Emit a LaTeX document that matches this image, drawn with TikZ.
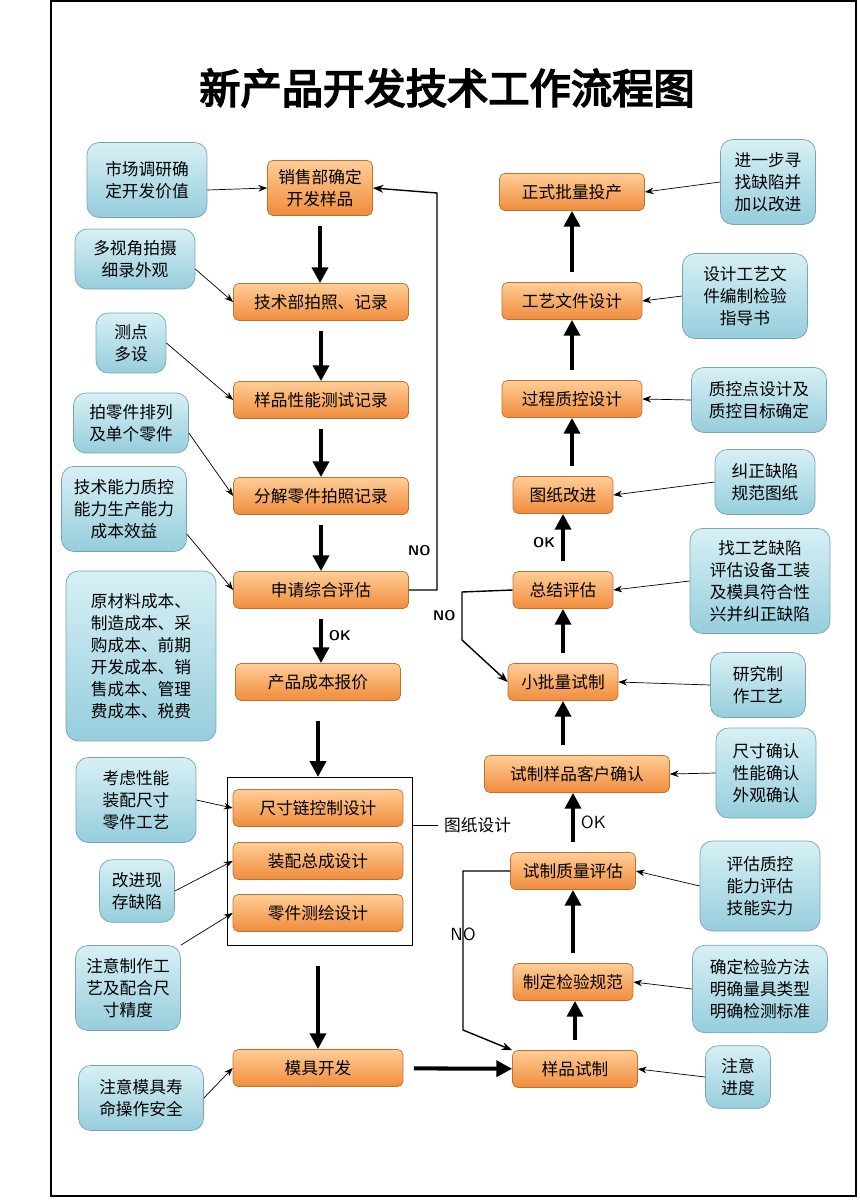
\documentclass[tikz,border=0pt]{standalone}
\usepackage{fontspec}
\newfontfamily\cjk{Noto Sans CJK SC}
\newfontfamily\cjkb[FakeBold=4]{Noto Sans CJK SC}
\usetikzlibrary{arrows.meta}
\definecolor{orangetop}{RGB}{255,205,150}
\definecolor{orangebot}{RGB}{240,140,60}
\definecolor{bluetop}{RGB}{215,240,245}
\definecolor{bluebot}{RGB}{150,205,220}
\tikzset{
  stage/.style={draw=orangebot!80!black, rounded corners=3pt, top color=orangetop, bottom color=orangebot,
    minimum height=0.74cm, align=center, font=\cjk\fontsize{9.5}{12.5}\selectfont},
  note/.style={draw=bluebot!80!black, rounded corners=7pt, top color=bluetop, bottom color=bluebot,
    align=center, font=\cjk\fontsize{9.5}{12.5}\selectfont, inner sep=2pt},
  flow/.style={-{Triangle[length=9pt,width=9pt]}, line width=2.3pt, shorten <=6pt},
  hint/.style={-{Stealth[length=5pt]}, thin},
  back/.style={-{Stealth[length=6pt]}, thick},
  tag/.style={font=\sffamily\bfseries\fontsize{8}{9}\selectfont}
}
\begin{document}
\begin{tikzpicture}[x=0.02cm, y=-0.02cm]
\useasboundingbox (0,0) rectangle (859,1200);
\draw[thick] (51,1) rectangle (856,1196);

% Title
\node (title) at (447,88) {\cjkb\fontsize{23.5}{26}\selectfont 新产品开发技术工作流程图};

% Left chain
\node[stage, minimum width=2.1cm, minimum height=1.1cm] (sale) at (320,188) {销售部确定\\开发样品};
\node[stage, minimum width=3.5cm] (photo) at (321,302) {技术部拍照、记录};
\node[stage, minimum width=3.5cm] (test) at (321,400) {样品性能测试记录};
\node[stage, minimum width=3.5cm] (part) at (321,496) {分解零件拍照记录};
\node[stage, minimum width=3.5cm] (eval) at (321,590) {申请综合评估};
\node[stage, minimum width=3.3cm] (cost) at (318,682) {产品成本报价};
\node[stage, minimum width=3.4cm] (chain) at (318,808) {尺寸链控制设计};
\node[stage, minimum width=3.4cm] (asm) at (318,861) {装配总成设计};
\node[stage, minimum width=3.4cm] (survey) at (318,913) {零件测绘设计};
\node[stage, minimum width=3.4cm] (mold) at (318,1068) {模具开发};
\draw (227,777) rectangle (412,945);
\coordinate (grptop) at (318,777);
\coordinate (grpbot) at (318,945);
\coordinate (grpr) at (412,825);
\node[font=\cjk\fontsize{9.5}{12}\selectfont, anchor=west] (grplbl) at (438,825) {图纸设计};
\draw (grpr) -- (grplbl.west);

% Right chain
\node[stage, minimum width=2.5cm] (sample) at (575,1069) {样品试制};
\node[stage, minimum width=2.4cm] (spec) at (573,982) {制定检验规范};
\node[stage, minimum width=2.5cm] (qual) at (573,871) {试制质量评估};
\node[stage, minimum width=3.7cm] (cust) at (577,774) {试制样品客户确认};
\node[stage, minimum width=2.2cm] (small) at (563,682) {小批量试制};
\node[stage, minimum width=2.0cm] (sum) at (563,590) {总结评估};
\node[stage, minimum width=2.0cm] (fix) at (563,495) {图纸改进};
\node[stage, minimum width=2.8cm] (proc) at (572,399) {过程质控设计};
\node[stage, minimum width=2.8cm] (doc) at (572,301) {工艺文件设计};
\node[stage, minimum width=2.9cm] (mass) at (572,192) {正式批量投产};

% Left notes
\node[note, minimum width=2.4cm, minimum height=1.5cm] (n1) at (147,180) {市场调研确\\定开发价值};
\node[note, minimum width=2.4cm, minimum height=1.2cm] (n2) at (135,259) {多视角拍摄\\细录外观};
\node[note, minimum width=1.4cm, minimum height=1.2cm] (n3) at (131,343) {测点\\多设};
\node[note, minimum width=2.3cm, minimum height=1.2cm] (n4) at (131,423) {拍零件排列\\及单个零件};
\node[note, minimum width=2.5cm, minimum height=1.7cm] (n5) at (124,509) {技术能力质控\\能力生产能力\\成本效益};
\node[note, minimum width=3.0cm, minimum height=3.4cm] (n6) at (141,656) {原材料成本、\\制造成本、采\\购成本、前期\\开发成本、销\\售成本、管理\\费成本、税费};
\node[note, minimum width=2.4cm, minimum height=1.7cm] (n7) at (136,800) {考虑性能\\装配尺寸\\零件工艺};
\node[note, minimum width=1.5cm, minimum height=1.25cm] (n8) at (137,891) {改进现\\存缺陷};
\node[note, minimum width=2.1cm, minimum height=1.7cm] (n9) at (128,988) {注意制作工\\艺及配合尺\\寸精度};
\node[note, minimum width=2.5cm, minimum height=1.3cm] (n10) at (141,1098) {注意模具寿\\命操作安全};

% Right notes
\node[note, minimum width=1.9cm, minimum height=1.7cm] (m1) at (768,182) {进一步寻\\找缺陷并\\加以改进};
\node[note, minimum width=2.5cm, minimum height=1.7cm] (m2) at (745,296) {设计工艺文\\件编制检验\\指导书};
\node[note, minimum width=2.7cm, minimum height=1.3cm] (m3) at (759,400) {质控点设计及\\质控目标确定};
\node[note, minimum width=2.0cm, minimum height=1.3cm] (m4) at (765,482) {纠正缺陷\\规范图纸};
\node[note, minimum width=2.8cm, minimum height=2.1cm] (m5) at (760,581) {找工艺缺陷\\评估设备工装\\及模具符合性\\兴并纠正缺陷};
\node[note, minimum width=1.9cm, minimum height=1.3cm] (m6) at (758,685) {研究制\\作工艺};
\node[note, minimum width=2.0cm, minimum height=1.8cm] (m7) at (766,773) {尺寸确认\\性能确认\\外观确认};
\node[note, minimum width=2.4cm, minimum height=1.8cm] (m8) at (760,886) {评估质控\\能力评估\\技能实力};
\node[note, minimum width=2.7cm, minimum height=1.75cm] (m9) at (760,989) {确定检验方法\\明确量具类型\\明确检测标准};
\node[note, minimum width=1.3cm, minimum height=1.25cm] (m10) at (738,1077) {注意\\进度};

% Main flow, left
\draw[flow] (sale.south) -- (sale.south |- photo.north);
\draw[flow] (photo) -- (test);
\draw[flow] (test) -- (part);
\draw[flow] (part) -- (eval);
\draw[flow] (eval.south) -- node[tag, right] {OK} (eval.south |- cost.north);
\draw[flow] (cost.south) ++(0,10) -- (grptop);
\draw[flow] (grpbot) ++(0,10) -- (mold);
\draw[flow] (mold) -- (sample);

% Main flow, right
\draw[flow] (sample.north) -- (sample.north |- spec.south);
\draw[flow] (spec) -- (qual);
\draw[flow] (qual.north) -- node[font=\sffamily\fontsize{10}{12}\selectfont, right] {OK} (qual.north |- cust.south);
\draw[flow] (small.south |- cust.north) -- (small.south);
\draw[flow] (small) -- (sum);
\draw[flow] (sum) -- node[tag, left] {OK} (fix);
\draw[flow] (proc.north |- fix.north) -- (proc.south);
\draw[flow] (proc) -- (doc);
\draw[flow] (doc) -- (mass);

% Loops back
\draw[back] (eval.east) -- (437,590) -- node[tag, pos=0.1, left] {NO} (437,193) -- (sale.east);
\draw[back] (sum.west) -- (462,592) -- node[tag, left] {NO} (462,640) -- (small.west);
\draw[back] (qual.west) -- (463,871) -- node[font=\sffamily\fontsize{10}{12}\selectfont, pos=0.4] {NO} (463,1030) -- (sample.north west);

% Notes to steps
\draw[hint] (n1.east) ++(0,10) -- (sale.west);
\draw[hint] (n2.east) ++(0,10) -- (photo.west);
\draw[hint] (n3.east) -- (test.west);
\draw[hint] (n4.east) ++(0,10) -- (part.west);
\draw[hint] (n5.east) ++(0,25) -- (eval.west);
\draw[hint] (n7.east) -- (chain.west);
\draw[hint] (n8.east) -- (asm.west);
\draw[hint] (n9.north east) -- (survey.west);
\draw[hint] (n10.east) -- (mold.west);
\draw[hint] (m1.west) -- (mass.east);
\draw[hint] (m2.west) -- (doc.east);
\draw[hint] (m3.west) -- (proc.east);
\draw[hint] (m4.west) -- (fix.east);
\draw[hint] (m5.west) -- (sum.east);
\draw[hint] (m6.west) -- (small.east);
\draw[hint] (m7.west) -- (cust.east);
\draw[hint] (m8.west) -- (qual.east);
\draw[hint] (m9.west) -- (spec.east);
\draw[hint] (m10.west) -- (sample.east);
\end{tikzpicture}
\end{document}
